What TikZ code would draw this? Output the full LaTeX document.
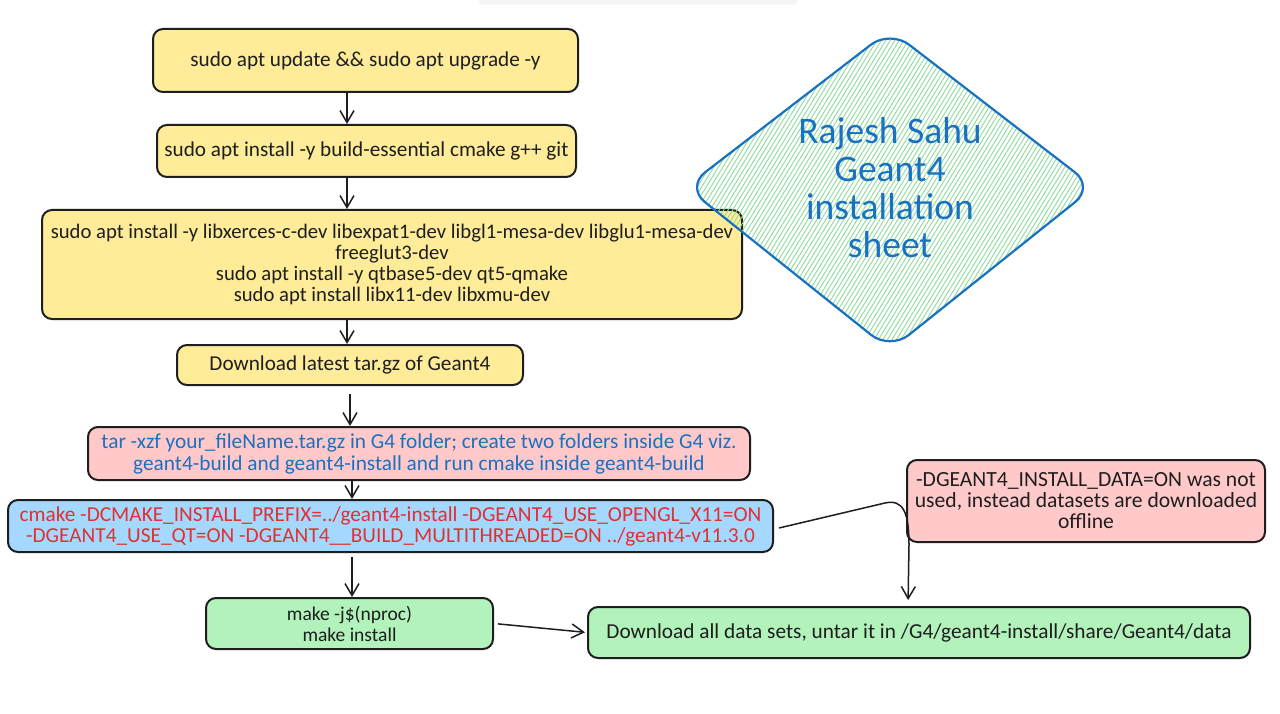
\documentclass[tikz,border=0pt]{standalone}
\usepackage{fontspec}
\setmainfont{Carlito}
\usetikzlibrary{arrows.meta,calc}
\definecolor{ink}{HTML}{1E1E1E}
\definecolor{yel}{HTML}{FFEC99}
\definecolor{pnk}{HTML}{FFC9C9}
\definecolor{blu}{HTML}{A5D8FF}
\definecolor{grn}{HTML}{B2F2BB}
\definecolor{tblue}{HTML}{1971C2}
\definecolor{tred}{HTML}{E03131}
\definecolor{hatch}{HTML}{8FDC9C}
\tikzset{
  box/.style={draw=ink, line width=2pt, rounded corners=10pt, inner sep=0pt,
    align=center, text=ink, font=\fontsize{21.2}{21}\selectfont},
  arr/.style={draw=ink, line width=1.5pt, -{Straight Barb[length=12pt,width=14pt,line width=1.5pt]}},
}
\begin{document}
\begin{tikzpicture}[x=1pt,y=-1pt]
\useasboundingbox (0,0) rectangle (1280,714);
\fill[white] (0,0) rectangle (1280,714);
% faint shadow at top
\fill[black!4, rounded corners=6pt] (478,-10) rectangle (798,5);

% nodes
\node[box, fill=yel, minimum width=425pt, minimum height=63pt] (b1) at (365.5,60.5)
  {sudo apt update \&\& sudo apt upgrade -y};
\node[box, fill=yel, minimum width=419pt, minimum height=52pt] (b2) at (366.5,151)
  {sudo apt install -y build-essential cmake g++ git};
\node[box, fill=yel, minimum width=700pt, minimum height=109pt, font=\fontsize{20.7}{21}\selectfont] (b3) at (392,264.5)
  {sudo apt install -y libxerces-c-dev libexpat1-dev libgl1-mesa-dev libglu1-mesa-dev\\
   freeglut3-dev\\ sudo apt install -y qtbase5-dev qt5-qmake\\ sudo apt install libx11-dev libxmu-dev};
\node[box, fill=yel, minimum width=346pt, minimum height=40pt] (b4) at (350,365)
  {Download latest tar.gz of Geant4};
\node[box, fill=pnk, text=tblue, minimum width=662pt, minimum height=53pt, font=\fontsize{21.3}{22}\selectfont] (b5) at (419,453.5)
  {tar -xzf your\_fileName.tar.gz in G4 folder; create two folders inside G4 viz.\\
   geant4-build and geant4-install and run cmake inside geant4-build};
\node[box, fill=blu, text=tred, minimum width=765pt, minimum height=52pt, font=\fontsize{21.3}{21}\selectfont] (b6) at (390.5,526)
  {cmake -DCMAKE\_INSTALL\_PREFIX=../geant4-install -DGEANT4\_USE\_OPENGL\_X11=ON\\
   -DGEANT4\_USE\_QT=ON -DGEANT4\_\_BUILD\_MULTITHREADED=ON ../geant4-v11.3.0};
\node[box, fill=grn, minimum width=287pt, minimum height=51pt, font=\fontsize{19.5}{21}\selectfont] (b7) at (349.5,623.5)
  {make -j\$(nproc)\\ make install};
\node[box, fill=grn, minimum width=662pt, minimum height=51pt, font=\fontsize{21.3}{21}\selectfont] (b8) at (919,632.5)
  {Download all data sets, untar it in /G4/geant4-install/share/Geant4/data};
\node[box, fill=pnk, minimum width=358pt, minimum height=82pt, font=\fontsize{21.6}{21}\selectfont] (b9) at (1086,501)
  {-DGEANT4\_INSTALL\_DATA=ON was not\\ used, instead datasets are downloaded\\ offline};

% diamond
\begin{scope}
  \clip[rounded corners=24pt] (890,30) -- (1094,187) -- (890,350) -- (686,187) -- cycle;
  \foreach \i in {470,474.5,...,1110}
    \draw[hatch, line width=0.9pt] (\i,360) -- ++(220,-360);
\end{scope}
\draw[tblue, line width=2.2pt, rounded corners=24pt] (890,30) -- (1094,187) -- (890,350) -- (686,187) -- cycle;
\node[align=center, text=tblue, font=\fontsize{37.5}{38}\selectfont, inner sep=0pt] (title) at (890,188)
  {Rajesh Sahu\\ Geant4\\ installation\\ sheet};

% connectors
\coordinate (ax) at (347,0);
\coordinate (bx) at (350,0);
\coordinate (cx) at (352,0);
\coordinate (dx) at (908,0);
\draw[arr] (b1.south -| ax) -- (b2.north -| ax);
\draw[arr] (b2.south -| ax) -- (b3.north -| ax);
\draw[arr] (b3.south -| ax) -- (b4.north -| ax);
\draw[arr, shorten <=8pt] (b4.south -| bx) -- (b5.north -| bx);
\draw[arr] (b5.south -| cx) -- (b6.north -| cx);
\draw[arr, shorten <=4pt] (b6.south -| cx) -- (b7.north -| cx);
\draw[arr, shorten <=4pt, shorten >=2pt] (b7.east) -- (b8.west);
\draw[arr, shorten >=6pt] ([xshift=5pt,yshift=-2pt]b6.east) -- (885,503)
  .. controls (903,499) and (909,512) .. (909,545) -- (b8.north -| dx);
\end{tikzpicture}
\end{document}
